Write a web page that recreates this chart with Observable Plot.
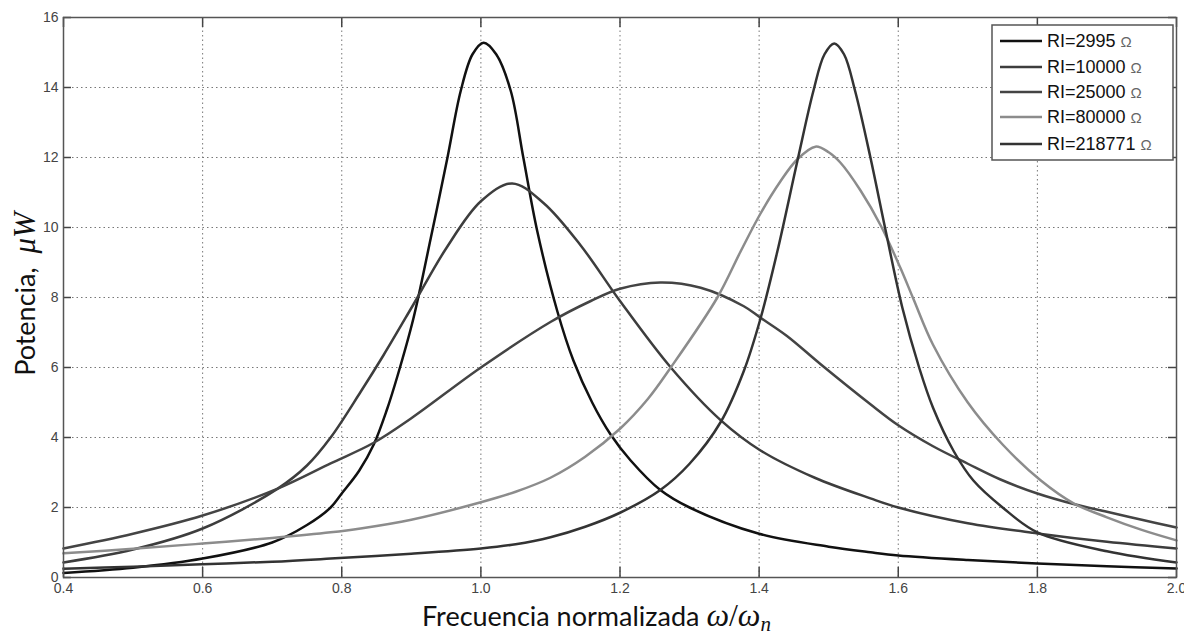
<!DOCTYPE html>
<html><head><meta charset="utf-8">
<script src="https://cdn.jsdelivr.net/npm/d3@7"></script>
<script src="https://cdn.jsdelivr.net/npm/@observablehq/plot@0.6"></script>
<style>
html,body{margin:0;padding:0;background:#fff;}
#chart{width:1184px;height:635px;}
</style></head><body><div id="chart"></div>
<script>
// Series names and colours
const seriesNames = ["RI=2995", "RI=10000", "RI=25000", "RI=80000", "RI=218771"];
const seriesColors = ["#111111", "#3d3d3d", "#444444", "#8c8c8c", "#333333"];

// [ω/ωn, potencia µW] pairs
const ri2995 = [[0.40,0.13],[0.50,0.28],[0.60,0.54],[0.70,1.0],[0.75,1.5],[0.784,2.0],[0.80,2.4],[0.825,3.05],[0.846,3.8],[0.865,4.8],[0.88,5.75],[0.903,7.4],[0.928,9.7],[0.952,12.0],[0.971,13.9],[0.988,14.95],[1.004,15.28],[1.022,14.95],[1.043,13.9],[1.061,12.0],[1.081,9.9],[1.11,7.6],[1.133,6.2],[1.16,5.0],[1.186,4.1],[1.215,3.35],[1.258,2.5],[1.30,2.0],[1.40,1.25],[1.50,0.88],[1.56,0.72],[1.60,0.63],[1.70,0.5],[1.80,0.4],[1.90,0.32],[2.00,0.26]];
const ri10000 = [[0.40,0.43],[0.50,0.8],[0.60,1.4],[0.708,2.54],[0.75,3.2],[0.784,4.0],[0.827,5.3],[0.86,6.35],[0.903,7.8],[0.95,9.4],[1.00,10.75],[1.045,11.26],[1.09,10.7],[1.143,9.5],[1.20,7.9],[1.273,6.0],[1.345,4.49],[1.402,3.63],[1.48,2.85],[1.56,2.26],[1.60,2.0],[1.70,1.55],[1.80,1.26],[1.90,1.02],[2.00,0.83]];
const ri25000 = [[0.40,0.83],[0.50,1.25],[0.60,1.77],[0.708,2.54],[0.784,3.26],[0.846,3.85],[0.90,4.55],[1.00,6.0],[1.10,7.3],[1.158,7.9],[1.20,8.25],[1.258,8.43],[1.316,8.28],[1.378,7.75],[1.402,7.42],[1.44,6.9],[1.488,6.1],[1.56,4.95],[1.60,4.35],[1.65,3.75],[1.70,3.25],[1.747,2.8],[1.80,2.4],[1.852,2.1],[1.90,1.88],[1.95,1.65],[2.00,1.43]];
const ri80000 = [[0.40,0.69],[0.50,0.82],[0.60,0.97],[0.70,1.13],[0.784,1.29],[0.827,1.4],[0.90,1.65],[1.00,2.15],[1.05,2.45],[1.10,2.85],[1.15,3.45],[1.20,4.25],[1.24,5.1],[1.273,6.0],[1.34,8.0],[1.373,9.3],[1.402,10.4],[1.43,11.3],[1.455,11.95],[1.481,12.31],[1.50,12.15],[1.517,11.85],[1.546,11.05],[1.575,10.05],[1.603,8.85],[1.622,7.95],[1.65,6.65],[1.70,5.0],[1.75,3.8],[1.805,2.77],[1.852,2.12],[1.90,1.72],[1.95,1.36],[2.00,1.06]];
const ri218771 = [[0.40,0.25],[0.50,0.31],[0.60,0.38],[0.70,0.45],[0.784,0.54],[0.90,0.68],[1.00,0.83],[1.05,0.95],[1.10,1.15],[1.15,1.45],[1.20,1.85],[1.258,2.5],[1.30,3.25],[1.345,4.45],[1.378,5.9],[1.402,7.4],[1.426,9.3],[1.455,11.9],[1.478,13.9],[1.494,14.95],[1.508,15.26],[1.522,14.95],[1.538,13.9],[1.56,12.0],[1.582,9.9],[1.606,7.7],[1.63,6.0],[1.65,4.85],[1.68,3.6],[1.708,2.77],[1.75,2.0],[1.80,1.29],[1.90,0.75],[2.00,0.43]];

const xTicks = [0.4, 0.6, 0.8, 1, 1.2, 1.4, 1.6, 1.8, 2];
const yTicks = [0, 2, 4, 6, 8, 10, 12, 14, 16];

const seriesData = [ri2995, ri10000, ri25000, ri80000, ri218771];
const rows = [];
seriesData.forEach((s, i) => s.forEach(([x, y]) => rows.push({x, y, name: seriesNames[i]})));

const W = 1184, H = 635, mL = 63, mR = 8, mT = 17, mB = 58;
const innerW = W - mL - mR, innerH = H - mT - mB;
const tickLenX = 10, tickLenY = 8;
const tickStyle = {stroke: "#444", strokeWidth: 1.5};

const plot = Plot.plot({
  width: W, height: H,
  marginLeft: mL, marginRight: mR, marginTop: mT, marginBottom: mB,
  style: {fontFamily: "'Liberation Sans', Arial, sans-serif", fontSize: "14px", background: "#fff", color: "#555"},
  x: {domain: [0.4, 2]},
  y: {domain: [0, 16]},
  color: {domain: seriesNames, range: seriesColors},
  marks: [
    Plot.gridX(xTicks.slice(1, -1), {stroke: "#777", strokeOpacity: 1, strokeDasharray: "1.5,3"}),
    Plot.gridY(yTicks.slice(1, -1), {stroke: "#777", strokeOpacity: 1, strokeDasharray: "1.5,3"}),
    Plot.line(rows, {x: "x", y: "y", z: "name", stroke: "name", strokeWidth: 2.5, curve: "catmull-rom"}),
    // inward ticks on all four sides
    Plot.ruleX(xTicks, {x: d => d, insetTop: innerH - tickLenX, ...tickStyle}),
    Plot.ruleX(xTicks, {x: d => d, insetBottom: innerH - tickLenX, ...tickStyle}),
    Plot.ruleY(yTicks, {y: d => d, insetRight: innerW - tickLenY, ...tickStyle}),
    Plot.ruleY(yTicks, {y: d => d, insetLeft: innerW - tickLenY, ...tickStyle}),
    Plot.axisX(xTicks, {anchor: "bottom", tickSize: 0, tickPadding: 6, stroke: "none", label: null, fill: "#444"}),
    Plot.axisY(yTicks, {anchor: "left", tickSize: 0, tickPadding: 5, stroke: "none", label: null, fill: "#444"}),
    Plot.frame({stroke: "#555", strokeWidth: 1.5})
  ]
});
document.getElementById("chart").appendChild(plot);

const svg = d3.select(plot);
// Axis titles
const xt = svg.append("text").attr("x", 422).attr("y", 626).attr("text-anchor", "start")
  .attr("font-family", "Lato, 'Open Sans', sans-serif").attr("font-size", 27).attr("fill", "#111");
xt.append("tspan").text("Frecuencia normalizada ");
xt.append("tspan").attr("font-family", "'Liberation Serif', serif").attr("font-style", "italic").attr("font-size", 32).text("ω");
xt.append("tspan").attr("font-family", "'Liberation Serif', serif").attr("font-size", 32).text("/");
xt.append("tspan").attr("font-family", "'Liberation Serif', serif").attr("font-style", "italic").attr("font-size", 32).text("ω");
xt.append("tspan").attr("font-family", "'Liberation Serif', serif").attr("font-style", "italic").attr("font-size", 21).attr("dy", 5).text("n");

const yt = svg.append("text").attr("transform", "translate(35,294) rotate(-90)").attr("text-anchor", "middle")
  .attr("font-family", "Lato, 'Open Sans', sans-serif").attr("font-size", 27).attr("fill", "#111");
yt.append("tspan").text("Potencia,  ");
yt.append("tspan").attr("font-family", "'Liberation Serif', serif").attr("font-style", "italic").attr("font-size", 31).text("μW");

// Legend
const lg = svg.append("g");
lg.append("rect").attr("x", 992).attr("y", 25).attr("width", 181).attr("height", 135)
  .attr("fill", "#fff").attr("stroke", "#555").attr("stroke-width", 1.5);
const rowY = [41, 67, 92, 117, 144];
seriesNames.forEach((n, i) => {
  lg.append("line").attr("x1", 1000).attr("x2", 1042).attr("y1", rowY[i]).attr("y2", rowY[i])
    .attr("stroke", seriesColors[i]).attr("stroke-width", 2.5);
  const t = lg.append("text").attr("x", 1047).attr("y", rowY[i]).attr("dy", "0.36em").attr("text-anchor", "start")
    .attr("font-family", "'Liberation Sans', Arial, sans-serif").attr("font-size", 18).attr("fill", "#111");
  t.append("tspan").text(n + " ");
  t.append("tspan").attr("font-size", 15).attr("fill", "#666").text("Ω");
});
</script></body></html>
